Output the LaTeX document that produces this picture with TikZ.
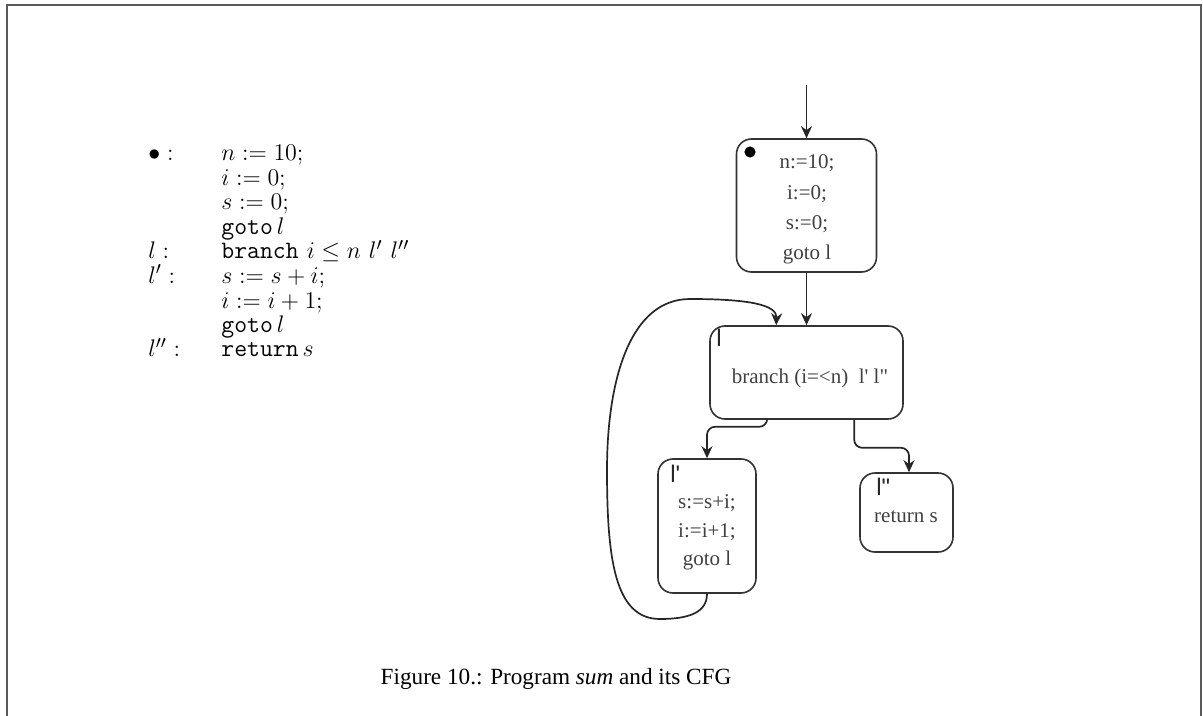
\documentclass[tikz,border=0pt]{standalone}
\usepackage{fontspec}
\newfontfamily\capfont{Liberation Serif}
\newfontfamily\cfgfont{Liberation Serif}
\newfontfamily\lblfont{Liberation Sans}
\usetikzlibrary{arrows.meta,calc}
\begin{document}
\begin{tikzpicture}[x=0.5pt,y=-0.5pt,
  box/.style={draw=black!80, line width=0.8pt, rounded corners=7.5pt, inner sep=0pt},
  ctext/.style={font=\cfgfont\fontsize{10.5}{12}\selectfont, text=black!75, inner sep=0pt, anchor=base},
  lbl/.style={font=\lblfont\fontsize{12}{13}\selectfont, text=black!85, inner sep=0pt, anchor=base west},
  prog/.style={font=\fontsize{12.5}{14}\selectfont, inner sep=0pt, anchor=base west},
  edge/.style={draw=black!85, line width=0.85pt, -{Stealth[length=6pt,width=5.5pt]}},
  frame/.style={draw=black!65, line width=1pt}]
\useasboundingbox (0,0) rectangle (1203,716);
\draw[frame] (7,716) -- (7,5) -- (1201,5) -- (1201,716);

% program text
\node[prog] (p0l) at (148,161) {$\bullet:$};
\node[prog] (p0)  at (221,161) {$n := 10;$};
\node[prog] (p1)  at (221,185.5) {$i := 0;$};
\node[prog] (p2)  at (221,210) {$s := 0;$};
\node[prog] (p3)  at (221,234.5) {$\mathtt{goto}\,l$};
\node[prog] (p4l) at (148,259) {$l:$};
\node[prog] (p4)  at (221,259) {$\mathtt{branch}\ i \le n\ l'\ l''$};
\node[prog] (p5l) at (148,283.5) {$l':$};
\node[prog] (p5)  at (221,283.5) {$s := s + i;$};
\node[prog] (p6)  at (221,308) {$i := i + 1;$};
\node[prog] (p7)  at (221,332.5) {$\mathtt{goto}\,l$};
\node[prog] (p8l) at (148,357) {$l'':$};
\node[prog] (p8)  at (221,357) {$\mathtt{return}\,s$};

% CFG boxes
\node[box, minimum width=70pt, minimum height=66.5pt] (A) at (806.5,205.5) {};
\node[box, minimum width=96.5pt, minimum height=46.5pt] (B) at (806.5,372.5) {};
\node[box, minimum width=49pt, minimum height=67pt] (C) at (707,526) {};
\node[box, minimum width=46.5pt, minimum height=39.5pt] (D) at (906.5,512.5) {};

\fill (750,152) circle (2.8pt) coordinate (dot);
\node[ctext] (a1) at (807,169) {n:=10;};
\node[ctext] (a2) at (807,200) {i:=0;};
\node[ctext] (a3) at (807,230) {s:=0;};
\node[ctext] (a4) at (807,260) {goto l};

\node[lbl] (bl) at (716,346) {l};
\node[ctext] (b1) at (810,383) {branch (i=<n)\ \ l' l"};

\node[lbl] (cl) at (670,482) {l'};
\node[ctext] (c1) at (707,508) {s:=s+i;};
\node[ctext] (c2) at (707,537) {i:=i+1;};
\node[ctext] (c3) at (707,565) {goto l};

\node[lbl] (dl) at (876,495) {l"};
\node[ctext] (d1) at (906,522) {return s};

% edges
\coordinate (in) at (806.5,85);
\draw[edge] (in) -- (A.north);
\draw[edge] (A.south) -- (B.north);
\draw[edge, rounded corners=4pt] ($(B.south west)+(58,0)$) -- ++(0,7) -| (C.north);
\draw[edge, rounded corners=4pt] ($(B.south west)+(145,0)$) -- ++(0,28) -| ($(D.north)+(2.5,0)$);
\draw[edge] (C.south) .. controls (707,612) and (690,619) .. (660,619)
  .. controls (615,619) and (607,560) .. (607,470)
  .. controls (607,380) and (630,299) .. (690,299)
  .. controls (750,299) and (777,305) .. ($(B.north west)+(67,0)$);

% caption
\node[font=\capfont\fontsize{11.6}{13}\selectfont, inner sep=0pt, anchor=base] (cap) at (556,684)
  {Figure 10.: Program \textit{sum} and its CFG};
\end{tikzpicture}
\end{document}
